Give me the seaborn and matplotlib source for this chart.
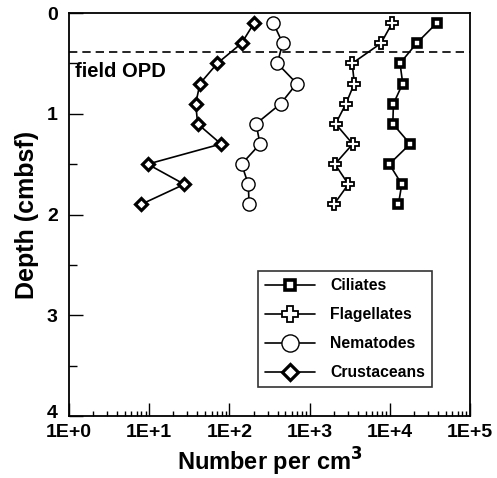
import matplotlib
matplotlib.use("Agg")
import matplotlib.pyplot as plt
import matplotlib.ticker as mticker
import matplotlib.transforms as mtrans
import seaborn as sns
import pandas as pd

depth = [0.1, 0.3, 0.5, 0.7, 0.9, 1.1, 1.3, 1.5, 1.7, 1.9]
ciliates = [38400, 21600, 13400, 14500, 11100, 10900, 17900, 9860, 14100, 12800]
flagellates = [10700, 7770, 3400, 3610, 2840, 2110, 3450, 2070, 3040, 2010]
nematodes = [353, 462, 396, 691, 436, 215, 241, 142, 172, 176]
crustaceans = [203, 142, 70.7, 43, 38, 40.2, 78.6, 9.58, 27.4, 7.9]
opd_depth = 0.39
x_ticks = [1, 10, 100, 1000, 10000, 100000]
x_labels = ["1E+0", "1E+1", "1E+2", "1E+3", "1E+4", "1E+5"]
y_ticks = [0, 1, 2, 3, 4]

sns.set_theme(style="white")
plt.rcParams["font.family"] = ["Liberation Sans", "DejaVu Sans"]
plt.rcParams["font.weight"] = "bold"
plt.rcParams["text.color"] = "black"
plt.rcParams["axes.labelcolor"] = "black"
plt.rcParams["xtick.color"] = "black"
plt.rcParams["ytick.color"] = "black"

fig = plt.figure(figsize=(4.97, 4.78), dpi=100)
ax = fig.add_axes([0.1388, 0.1297, 0.8069, 0.8431])

series = [
    ("Ciliates", ciliates, "s", 6.0, 2.6),
    ("Flagellates", flagellates, "P", 8.5, 1.3),
    ("Nematodes", nematodes, "o", 9.5, 1.0),
    ("Crustaceans", crustaceans, "D", 6.5, 2.3),
]
for name, vals, mk, ms, mew in series:
    df = pd.DataFrame({"x": vals, "y": depth})
    sns.lineplot(data=df, x="x", y="y", sort=False, estimator=None, ax=ax,
                 color="black", linewidth=1.2, marker=mk, markersize=ms,
                 markerfacecolor="white", markeredgecolor="black",
                 markeredgewidth=mew, label=name)

ax.axhline(opd_depth, color="black", linestyle=(0, (5, 3)), linewidth=1.2)
ax.text(1.2, 0.58, "field OPD", fontsize=14.5, fontweight="bold", va="center", ha="left")

ax.set_xscale("log")
ax.set_xlim(1, 1e5)
ax.set_ylim(4, 0)
ax.set_xticks(x_ticks)
ax.set_xticklabels(x_labels)
ax.xaxis.set_minor_locator(mticker.LogLocator(base=10, subs=range(2, 10), numticks=20))
ax.xaxis.set_minor_formatter(mticker.NullFormatter())
ax.set_yticks(y_ticks)
ax.set_yticks([0.5, 1.5, 2.5, 3.5], minor=True)
ax.tick_params(which="both", direction="in", bottom=True, left=True, top=False, right=False,
               color="black", labelcolor="black", labelsize=14, width=1.0)
ax.tick_params(axis="x", which="major", length=9.5, pad=6)
ax.tick_params(axis="x", which="minor", length=3.5)
ax.tick_params(axis="y", which="major", length=10, pad=8)
ax.tick_params(axis="y", which="minor", length=5.5)
for lab in ax.get_xticklabels() + ax.get_yticklabels():
    lab.set_fontweight("bold")
# nudge the bottom "4" label up slightly so it does not collide with "1E+0"
ylabs = ax.get_yticklabels()
ylabs[-1].set_transform(ylabs[-1].get_transform() +
                        mtrans.ScaledTranslation(0, 3 / 72, fig.dpi_scale_trans))

for s in ax.spines.values():
    s.set_visible(True)
    s.set_color("black")
    s.set_linewidth(1.3)

ax.set_xlabel("Number per cm$^{\\mathbf{3}}$", fontsize=17, fontweight="bold", labelpad=3)
ax.set_ylabel("Depth (cmbsf)", fontsize=18, fontweight="bold", labelpad=6)

leg = ax.legend(loc="lower right", bbox_to_anchor=(0.905, 0.072), frameon=True,
                fancybox=False, edgecolor="black", fontsize=11.3, markerscale=1.3,
                handlelength=3.2, labelspacing=0.9, borderpad=0.42, handletextpad=1.0,
                borderaxespad=0.0)
leg.get_frame().set_linewidth(1.2)
for t in leg.get_texts():
    t.set_fontweight("bold")
    t.set_color("black")

fig.savefig("out.png", dpi=100)
